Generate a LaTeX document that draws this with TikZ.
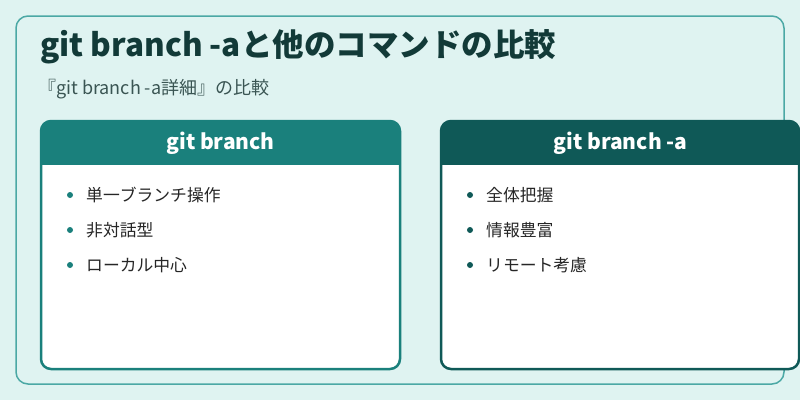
\documentclass[tikz,border=0pt]{standalone}
\usepackage{fontspec}
\setmainfont{Noto Sans CJK JP}
\definecolor{bg}{HTML}{DFF3F1}
\definecolor{outer}{HTML}{4BA8A5}
\definecolor{tealA}{HTML}{1A807C}
\definecolor{tealB}{HTML}{0F5957}
\definecolor{titlec}{HTML}{123A38}
\definecolor{subc}{HTML}{3A5553}
\tikzset{x=1pt,y=-1pt,
 item/.style={anchor=west,font=\fontsize{16.8}{18}\selectfont,text=black!85,inner sep=0},
 head/.style={font=\bfseries\fontsize{21}{24}\selectfont,text=white}}
\begin{document}
\begin{tikzpicture}
\fill[bg] (0,0) rectangle (800,400);
\useasboundingbox (0,0) rectangle (800,400);
\draw[outer,line width=1.5pt,rounded corners=12pt] (16,16) rectangle (784,384);
\node[anchor=west,inner sep=0,font=\bfseries\fontsize{31.5}{34}\selectfont,text=titlec] (title) at (40,47) {git branch -aと他のコマンドの比較};
\node[anchor=west,inner sep=0,font=\fontsize{18}{20}\selectfont,text=subc] (sub) at (38,89) {『git branch -a詳細』の比較};
% left card
\fill[white,rounded corners=10pt] (41,121) rectangle (400,369);
\fill[tealA,rounded corners=10pt] (41,121) rectangle (400,150);
\fill[tealA] (41,140) rectangle (400,165);
\draw[tealA,line width=2.5pt,rounded corners=10pt] (41,121) rectangle (400,369);
\node[head] (lh) at (220.5,143) {git branch};
\foreach \t [count=\i] in {単一ブランチ操作,非対話型,ローカル中心}{
 \fill[tealA] (70,195+35*\i-35) circle (3pt);
 \node[item] (l\i) at (86,195+35*\i-35) {\t};}
% right card
\fill[white,rounded corners=10pt] (441,121) rectangle (800,369);
\fill[tealB,rounded corners=10pt] (441,121) rectangle (800,150);
\fill[tealB] (441,140) rectangle (800,165);
\draw[tealB,line width=2.5pt,rounded corners=10pt] (441,121) rectangle (799,369);
\node[head] (rh) at (620.5,143) {git branch -a};
\foreach \t [count=\i] in {全体把握,情報豊富,リモート考慮}{
 \fill[tealB] (470,195+35*\i-35) circle (3pt);
 \node[item] (r\i) at (486,195+35*\i-35) {\t};}
\end{tikzpicture}
\end{document}
